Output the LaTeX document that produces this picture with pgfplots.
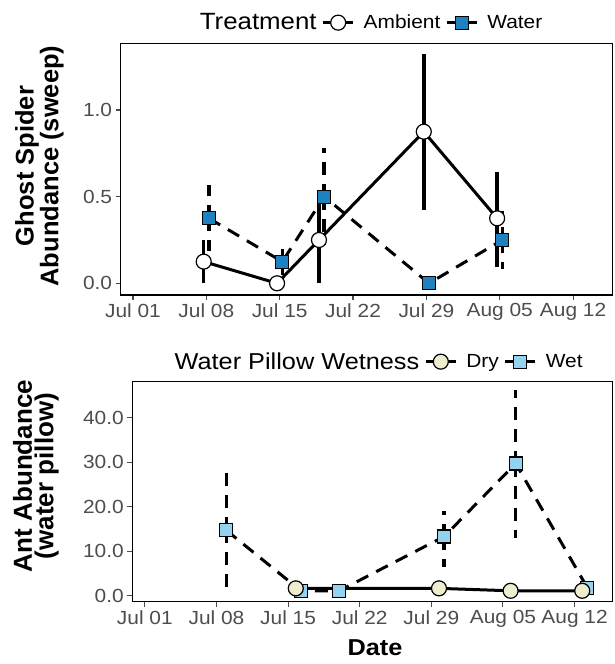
\documentclass[border=0pt]{standalone}
\usepackage{fontspec}
\setmainfont{Liberation Sans}[FakeStretch=1.1]
\newfontfamily\ylabfont{Liberation Sans}
\usepackage{pgfplots}
\pgfplotsset{compat=1.18}
\definecolor{waterblue}{HTML}{1F82C0}
\definecolor{wetblue}{HTML}{94D3EF}
\definecolor{drycream}{HTML}{EEEDD0}
\definecolor{tickgrey}{HTML}{4D4D4D}
\pgfplotsset{
 panel/.style={
  scale only axis,
  axis line style={line width=1.4pt, black},
  tick style={line width=1.1pt, tickgrey},
  tick align=outside, major tick length=5pt,
  tick pos=left,
  xtick={0,7,14,21,28,35,42},
  xticklabels={Jul 01,Jul 08,Jul 15,Jul 22,Jul 29,Aug 05,Aug 12},
  ticklabel style={font=\fontsize{19}{19}\selectfont, text=tickgrey},
  /pgf/number format/assume math mode=true,
  yticklabel style={/pgf/number format/.cd, fixed, fixed zerofill, precision=1},
  legend style={draw=none, fill=none, legend columns=-1, anchor=center,
    font=\fontsize{19}{19}\selectfont,
    /tikz/every even column/.append style={column sep=3pt},
    /tikz/every odd column/.append style={column sep=7pt}},
  legend image code/.code={\draw[mark repeat=2,mark phase=2,##1] plot coordinates {(0pt,0pt) (15pt,0pt) (30pt,0pt)};},
 },
 solidser/.style={black, line width=3pt, solid},
 dashser/.style={black, line width=3pt, dash pattern=on 13pt off 9pt},
}
\pgfplotstableread{
x y ep em
6.75 0.125 0.125 0.125
13.75 0 0 0
17.75 0.25 0.25 0.25
27.75 0.875 0.45 0.45
34.75 0.375 0.27 0.28
}\ambient
\pgfplotstableread{
x y ep em
7.25 0.375 0.19 0.19
14.25 0.125 0.125 0.125
18.25 0.5 0.28 0.28
28.25 0 0 0
35.25 0.25 0.17 0.17
}\water
\pgfplotstableread{
x y ep em
14.75 1.65 0 0
28.75 1.65 0 0
35.75 1.1 0 0
42.75 1.1 0 0
}\dry
\pgfplotstableread{
x y ep em
7.96 14.7 14.3 14.2
15.25 1.1 0 0
19.0 1.1 0 0
29.25 13.3 5.7 6.8
36.25 29.7 16.6 16.8
43.25 1.8 0 0
}\wet
\begin{document}
\begin{tikzpicture}
\useasboundingbox (0,0) rectangle (614pt,664pt);
% top panel
\begin{axis}[panel, at={(120.6pt,369pt)}, anchor=south west,
  width=491.6pt, height=251.7pt,
  xmin=-1.18, xmax=45.73, ymin=-0.0675, ymax=1.385,
  ytick={0,0.5,1},
  legend style={at={(0.5024,1.082)}}]
\addlegendimage{empty legend}
\addlegendentry{\fontsize{23.5}{23.5}\selectfont Treatment}
\addlegendimage{solidser, mark=*, mark size=7.5pt, mark options={fill=white, line width=1.2pt, solid}}
\addlegendentry{Ambient}
\addlegendimage{dashser, mark=square*, mark size=6.5pt, mark options={fill=waterblue, line width=1.2pt, solid}}
\addlegendentry{Water}
\addplot[dashser, forget plot, mark=square*, mark size=6.5pt, mark options={fill=waterblue, line width=1.2pt, solid},
  error bars/.cd, y dir=both, y explicit, error mark=none,
  error bar style={line width=3.5pt, dash pattern=on 13pt off 9pt}]
  table[x=x, y=y, y error plus=ep, y error minus=em] {\water};
\addplot[solidser, forget plot, mark=*, mark size=7.5pt, mark options={fill=white, line width=1.2pt, solid},
  error bars/.cd, y dir=both, y explicit, error mark=none,
  error bar style={line width=3.5pt, solid}]
  table[x=x, y=y, y error plus=ep, y error minus=em] {\ambient};
\end{axis}
% bottom panel
\begin{axis}[panel, at={(132.3pt,62.3pt)}, anchor=south west,
  width=479.9pt, height=220pt,
  xmin=-1.23, xmax=45.68, ymin=-1.35, ymax=48.1,
  ytick={0,10,20,30,40},
  legend style={at={(0.506,1.091)}}]
\addlegendimage{empty legend}
\addlegendentry{\fontsize{23}{23}\selectfont Water Pillow Wetness}
\addlegendimage{solidser, mark=*, mark size=7.5pt, mark options={fill=drycream, line width=1.2pt, solid}}
\addlegendentry{Dry}
\addlegendimage{dashser, mark=square*, mark size=6.5pt, mark options={fill=wetblue, line width=1.2pt, solid}}
\addlegendentry{Wet}
\addplot[dashser, forget plot, mark=square*, mark size=6.5pt, mark options={fill=wetblue, line width=1.2pt, solid},
  error bars/.cd, y dir=both, y explicit, error mark=none,
  error bar style={line width=3.5pt, dash pattern=on 13pt off 9pt}]
  table[x=x, y=y, y error plus=ep, y error minus=em] {\wet};
\addplot[solidser, forget plot, mark=*, mark size=7.5pt, mark options={fill=drycream, line width=1.2pt, solid},
  error bars/.cd, y dir=both, y explicit, error mark=none,
  error bar style={line width=3.5pt, solid}]
  table[x=x, y=y, y error plus=ep, y error minus=em] {\dry};
\end{axis}
\node[rotate=90, align=center, font=\ylabfont\fontsize{25.5}{21}\selectfont\bfseries] at (39.5pt,498pt) {Ghost Spider\\Abundance (sweep)};
\node[rotate=90, align=center, font=\ylabfont\fontsize{26}{21.5}\selectfont\bfseries] at (36pt,188pt) {Ant Abundance\\(water pillow)};
\node[font=\fontsize{23}{23}\selectfont\bfseries] at (375pt,16pt) {Date};
\end{tikzpicture}
\end{document}
